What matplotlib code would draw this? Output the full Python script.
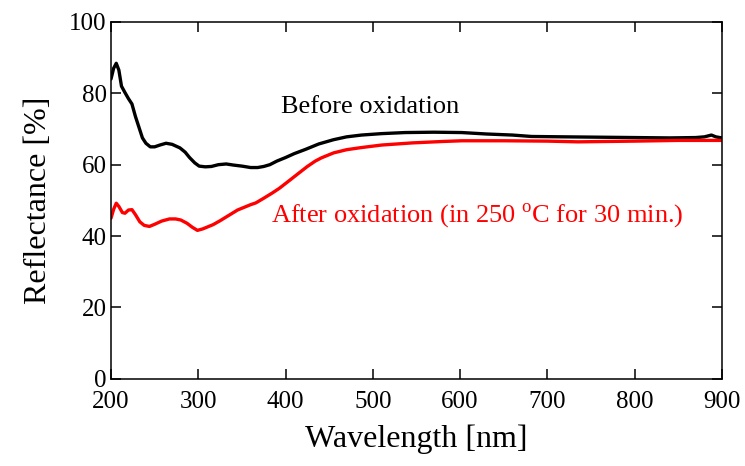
import numpy as np
import matplotlib
matplotlib.use('Agg')
import matplotlib.pyplot as plt

plt.rcParams['font.family'] = 'Liberation Serif'
plt.rcParams['mathtext.fontset'] = 'custom'
plt.rcParams['mathtext.rm'] = 'Liberation Serif'

# Reflectance spectra (wavelength in nm, reflectance in %)
wl_before = [200, 203, 206, 209, 212, 216, 220, 224, 228, 232, 236, 240, 245, 250, 256,
             263, 270, 279, 285, 290, 296, 301, 308, 315, 323, 332, 340, 350, 360, 368,
             375, 382, 390, 400, 410, 423, 438, 455, 470, 487, 510, 537, 570, 602, 630,
             660, 682, 720, 760, 800, 840, 870, 880, 888, 893, 900]
r_before = [84, 87, 88.4, 86.5, 82, 80.2, 78.5, 77, 73.5, 70.5, 67.5, 66, 65, 65, 65.5,
            66, 65.7, 64.7, 63.5, 62, 60.5, 59.6, 59.4, 59.5, 60, 60.2, 59.9, 59.6, 59.2, 59.2,
            59.5, 60, 61, 62, 63.1, 64.3, 65.8, 67, 67.8, 68.3, 68.7, 69, 69.1, 69, 68.6,
            68.3, 67.9, 67.8, 67.7, 67.6, 67.5, 67.6, 67.8, 68.3, 67.8, 67.5]

wl_after = [200, 203, 206, 209, 213, 216, 220, 224, 228, 233, 238, 244, 250, 258, 267,
            274, 280, 287, 293, 299, 305, 311, 317, 325, 333, 339, 345, 352, 360, 366,
            375, 385, 393, 403, 415, 425, 434, 441, 455, 470, 487, 510, 545, 580, 602,
            650, 700, 735, 800, 850, 880, 900]
r_after = [45, 47.5, 49.2, 48.3, 46.6, 46.4, 47.3, 47.4, 46, 44, 43, 42.7, 43.3, 44.2, 44.8,
           44.8, 44.5, 43.6, 42.5, 41.6, 42, 42.6, 43.2, 44.3, 45.5, 46.4, 47.3, 48, 48.8, 49.3,
           50.6, 52.1, 53.4, 55.3, 57.6, 59.5, 61, 61.9, 63.3, 64.2, 64.8, 65.5, 66.1, 66.5, 66.7,
           66.7, 66.6, 66.4, 66.6, 66.8, 66.8, 66.8]

fig = plt.figure(figsize=(7.45, 4.66), dpi=100)
ax = fig.add_axes([0.149, 0.187, 0.820, 0.766])

ax.plot(wl_before, r_before, color='black', lw=2.4, solid_capstyle='round')
ax.plot(wl_after, r_after, color='#ff0000', lw=2.4, solid_capstyle='round')

ax.text(395, 76.2, 'Before oxidation', fontsize=19, color='black', va='center')
ax.text(383, 45.7, r'After oxidation (in 250 $^{\mathrm{o}}$C for 30 min.)',
        fontsize=19, color='#ff0000', va='center')

ax.set_xlim(200, 900)
ax.set_ylim(0, 100)
ax.set_xticks(np.arange(200, 901, 100))
ax.set_yticks(np.arange(0, 101, 20))
ax.tick_params(direction='in', length=7.5, width=1.1, top=True, right=True,
               labelsize=18)
ax.tick_params(axis='x', pad=9)
ax.tick_params(axis='y', pad=3)
for s in ax.spines.values():
    s.set_linewidth(1.1)

ax.set_xlabel('Wavelength [nm]', fontsize=23, labelpad=8)
ax.set_ylabel('Reflectance [%]', fontsize=23, labelpad=12)

fig.savefig('out.png', dpi=100)
